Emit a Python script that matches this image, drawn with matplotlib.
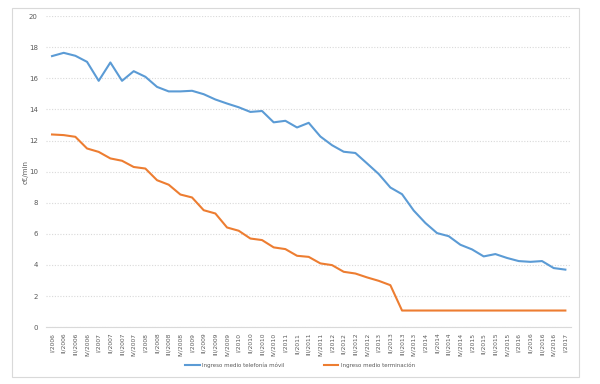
import matplotlib.pyplot as plt
import numpy as np
from matplotlib.patches import Rectangle

# Trimestres I/2006 ... I/2017
roman = ['I', 'II', 'III', 'IV']
quarters = [f'{roman[q]}/{y}' for y in range(2006, 2017) for q in range(4)] + ['I/2017']

movil = [17.43, 17.64, 17.45, 17.06, 15.84, 17.02, 15.84, 16.46, 16.10, 15.45,
         15.16, 15.16, 15.20, 14.98, 14.64, 14.38, 14.14, 13.84, 13.90, 13.17,
         13.27, 12.84, 13.14, 12.26, 11.70, 11.28, 11.20, 10.53, 9.85, 8.98,
         8.55, 7.50, 6.70, 6.05, 5.85, 5.30, 5.00, 4.55, 4.70, 4.45,
         4.25, 4.20, 4.25, 3.80, 3.70]

terminacion = [12.39, 12.35, 12.24, 11.49, 11.27, 10.85, 10.70, 10.30, 10.20, 9.45,
               9.16, 8.53, 8.34, 7.52, 7.31, 6.41, 6.20, 5.70, 5.60, 5.13,
               5.02, 4.59, 4.52, 4.10, 3.99, 3.56, 3.45, 3.20, 2.98, 2.70,
               1.07, 1.07, 1.07, 1.07, 1.07, 1.07, 1.07, 1.07, 1.07, 1.07,
               1.07, 1.07, 1.07, 1.07, 1.07]

grey = '#595959'
fig = plt.figure(figsize=(6, 3.84), dpi=100)
ax = fig.add_axes([0.077, 0.148, 0.875, 0.81])

# marco exterior estilo Excel
fig.patches.append(Rectangle((0.02, 0.018), 0.945, 0.96, transform=fig.transFigure,
                             fill=False, edgecolor='#d9d9d9', lw=0.8))

x = np.arange(len(quarters))
ax.plot(x, movil, color='#5B9BD5', lw=1.5, label='Ingreso medio telefonía móvil')
ax.plot(x, terminacion, color='#ED7D31', lw=1.5, label='Ingreso medio terminación')

ax.set_xlim(-0.5, len(quarters) - 0.5)
ax.set_ylim(0, 20)
ax.set_yticks(range(0, 21, 2))
ax.yaxis.grid(True, color='#d9d9d9', ls=(0, (1, 1.5)), lw=0.8)
ax.set_axisbelow(True)
for s in ['top', 'right', 'left']:
    ax.spines[s].set_visible(False)
ax.spines['bottom'].set_color('#d9d9d9')

ax.set_xticks(x)
ax.set_xticklabels(quarters, rotation=90, fontsize=4.3, color=grey)
ax.tick_params(axis='x', length=0, pad=4)
ax.tick_params(axis='y', length=0, labelsize=5, labelcolor=grey, pad=6)
ax.set_ylabel('c€/min', fontsize=5, color=grey, labelpad=0)

fig.legend(loc='lower center', bbox_to_anchor=(0.5, 0.028), ncol=2, frameon=False,
           fontsize=4, labelcolor=grey, handlelength=2.6, handletextpad=0.5,
           columnspacing=7)

plt.savefig('out.png', dpi=100)
